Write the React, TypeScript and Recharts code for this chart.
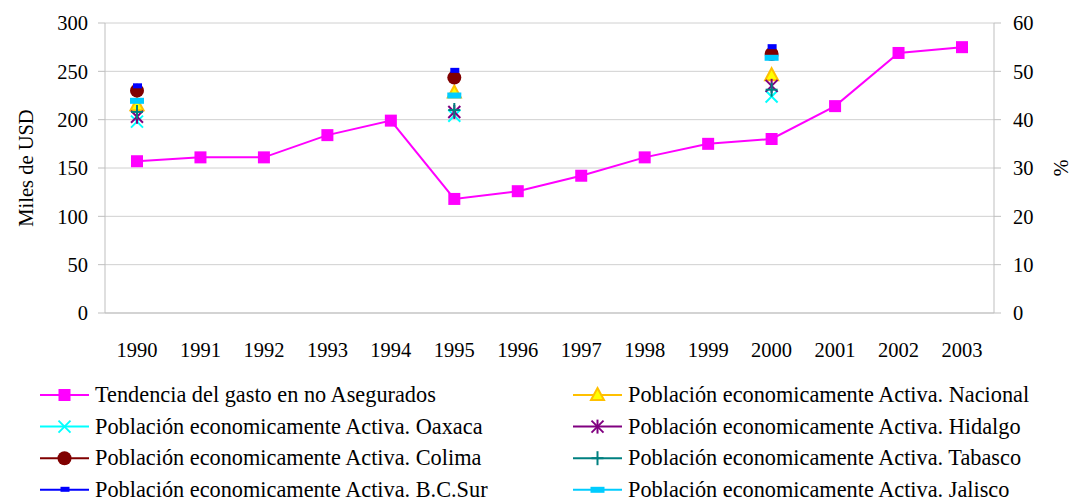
import React from 'react';
import { ComposedChart, Line, XAxis, YAxis, CartesianGrid } from 'recharts';

const years = ['1990', '1991', '1992', '1993', '1994', '1995', '1996', '1997', '1998', '1999', '2000', '2001', '2002', '2003'];
const gasto = [157, 161, 161, 184, 199, 118, 126, 142, 161, 175, 180, 214, 269, 275];

// census years only (1990, 1995, 2000), in %
const nacional = [43.0, null, null, null, null, 45.6, null, null, null, null, 49.2, null, null, null];
const oaxaca = [39.6, null, null, null, null, 40.8, null, null, null, null, 44.8, null, null, null];
const hidalgo = [40.6, null, null, null, null, 41.6, null, null, null, null, 47.0, null, null, null];
const colima = [46.0, null, null, null, null, 48.7, null, null, null, null, 53.6, null, null, null];
const tabasco = [41.6, null, null, null, null, 42.0, null, null, null, null, 46.2, null, null, null];
const bcsur = [46.9, null, null, null, null, 50.1, null, null, null, null, 55.0, null, null, null];
const jalisco = [43.9, null, null, null, null, 45.0, null, null, null, null, 52.8, null, null, null];

const data = years.map((y, i) => ({
  year: y,
  gasto: gasto[i],
  nacional: nacional[i],
  oaxaca: oaxaca[i],
  hidalgo: hidalgo[i],
  colima: colima[i],
  tabasco: tabasco[i],
  bcsur: bcsur[i],
  jalisco: jalisco[i],
}));

const FONT = '"Liberation Serif", "Times New Roman", serif';

type Kind = 'square' | 'triangle' | 'x' | 'star' | 'circle' | 'plus' | 'dash' | 'bar';

const Marker = ({ kind, cx, cy, color }: { kind: Kind; cx: number; cy: number; color: string }) => {
  switch (kind) {
    case 'square':
      return <rect x={cx - 6} y={cy - 6} width={12} height={12} fill={color} />;
    case 'triangle':
      return <polygon points={`${cx},${cy - 7} ${cx + 6.5},${cy + 5} ${cx - 6.5},${cy + 5}`} fill="#FFFF00" stroke={color} strokeWidth={2} />;
    case 'x':
      return (
        <g stroke={color} strokeWidth={2}>
          <line x1={cx - 6} y1={cy - 6} x2={cx + 6} y2={cy + 6} />
          <line x1={cx - 6} y1={cy + 6} x2={cx + 6} y2={cy - 6} />
        </g>
      );
    case 'star':
      return (
        <g stroke={color} strokeWidth={2}>
          <line x1={cx - 6} y1={cy - 6} x2={cx + 6} y2={cy + 6} />
          <line x1={cx - 6} y1={cy + 6} x2={cx + 6} y2={cy - 6} />
          <line x1={cx} y1={cy - 7} x2={cx} y2={cy + 7} />
        </g>
      );
    case 'circle':
      return <circle cx={cx} cy={cy} r={7} fill={color} />;
    case 'plus':
      return (
        <g stroke={color} strokeWidth={2}>
          <line x1={cx - 6} y1={cy} x2={cx + 6} y2={cy} />
          <line x1={cx} y1={cy - 7} x2={cx} y2={cy + 7} />
        </g>
      );
    case 'dash':
      return <rect x={cx - 4} y={cy - 3} width={9} height={5} fill={color} />;
    case 'bar':
      return <rect x={cx - 7} y={cy - 3} width={14} height={6} fill={color} />;
  }
};

const series: { key: string; name: string; color: string; kind: Kind }[] = [
  { key: 'gasto', name: 'Tendencia del gasto en no Asegurados', color: '#FF00FF', kind: 'square' },
  { key: 'nacional', name: 'Población economicamente Activa. Nacional', color: '#FFC000', kind: 'triangle' },
  { key: 'oaxaca', name: 'Población economicamente Activa. Oaxaca', color: '#00FFFF', kind: 'x' },
  { key: 'hidalgo', name: 'Población economicamente Activa. Hidalgo', color: '#800080', kind: 'star' },
  { key: 'colima', name: 'Población economicamente Activa. Colima', color: '#800000', kind: 'circle' },
  { key: 'tabasco', name: 'Población economicamente Activa. Tabasco', color: '#008080', kind: 'plus' },
  { key: 'bcsur', name: 'Población economicamente Activa. B.C.Sur', color: '#0000FF', kind: 'dash' },
  { key: 'jalisco', name: 'Población economicamente Activa. Jalisco', color: '#00CCFF', kind: 'bar' },
];

const makeDot = (kind: Kind, color: string) => (props: any) => {
  const { cx, cy, value, index } = props;
  if (value == null || cx == null || cy == null || Number.isNaN(cy)) return <g key={index} />;
  return (
    <g key={index}>
      <Marker kind={kind} cx={cx} cy={cy} color={color} />
    </g>
  );
};

const LegendBox = () => (
  <svg width={1072} height={119} style={{ display: 'block' }}>
    {series.map((s, i) => {
      const col = i % 2;
      const row = Math.floor(i / 2);
      const x0 = col === 0 ? 40 : 573;
      const y = 15 + row * 31.6;
      return (
        <g key={s.key}>
          <line x1={x0} y1={y} x2={x0 + 49} y2={y} stroke={s.color} strokeWidth={2} />
          <Marker kind={s.kind} cx={x0 + 24.5} cy={y} color={s.color} />
          <text x={x0 + 55} y={y + 7} fontFamily={FONT} fontSize={22.3} fill="#000">
            {s.name}
          </text>
        </g>
      );
    })}
  </svg>
);

const tickStyle = { fill: '#000', fontSize: 20.5, fontFamily: FONT };

export default function App() {
  return (
    <div style={{ position: 'absolute', left: 0, top: 0, width: 1072, height: 499, background: '#fff', overflow: 'hidden' }}>
      <ComposedChart
        width={1072}
        height={499}
        data={data}
        margin={{ top: 23, right: 8, left: 10, bottom: 126 }}
        style={{ fontFamily: FONT }}
      >
        <CartesianGrid vertical={false} stroke="#d0d0d0" yAxisId="left" />
        <XAxis
          dataKey="year"
          height={60}
          tickLine={false}
          tickMargin={23}
          stroke="#bfbfbf"
          tick={tickStyle}
          interval={0}
          padding={{ left: 32, right: 32 }}
        />
        <YAxis
          yAxisId="left"
          width={95}
          domain={[0, 300]}
          ticks={[0, 50, 100, 150, 200, 250, 300]}
          stroke="#bfbfbf"
          tickSize={7}
          tickMargin={10}
          tick={tickStyle}
          label={{
            content: () => (
              <text x={26} y={168} transform="rotate(-90, 26, 168)" textAnchor="middle" dominantBaseline="central" fontFamily={FONT} fontSize={20.5} fill="#000">
                Miles de USD
              </text>
            ),
          }}
        />
        <YAxis
          yAxisId="right"
          orientation="right"
          width={70}
          domain={[0, 60]}
          ticks={[0, 10, 20, 30, 40, 50, 60]}
          stroke="#bfbfbf"
          tickSize={7}
          tickMargin={12}
          tick={tickStyle}
          label={{
            content: () => (
              <text x={1061} y={168} transform="rotate(-90, 1061, 168)" textAnchor="middle" dominantBaseline="central" fontFamily={FONT} fontSize={20.5} fill="#000">
                %
              </text>
            ),
          }}
        />
        {series.map((s) => (
          <Line
            key={s.key}
            yAxisId={s.key === 'gasto' ? 'left' : 'right'}
            dataKey={s.key}
            name={s.name}
            stroke={s.key === 'gasto' ? s.color : 'none'}
            strokeWidth={2}
            dot={makeDot(s.kind, s.color)}
            activeDot={false}
            connectNulls={false}
            isAnimationActive={false}
          />
        ))}
      </ComposedChart>
      <div style={{ position: 'absolute', left: 0, top: 380 }}>
        <LegendBox />
      </div>
    </div>
  );
}
